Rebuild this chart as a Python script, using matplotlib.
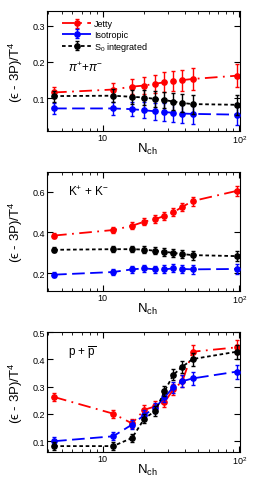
import numpy as np
import matplotlib.pyplot as plt
from matplotlib.ticker import FixedLocator, LogLocator, NullFormatter

plt.rcParams['font.family'] = ['Liberation Sans', 'DejaVu Sans']
plt.rcParams['mathtext.fontset'] = 'custom'
plt.rcParams['mathtext.rm'] = 'Liberation Sans'
plt.rcParams['mathtext.it'] = 'Liberation Sans:italic'

nch = [4.4, 11.9, 16.4, 20.1, 24.3, 28.3, 32.9, 38.3, 45.4, 95.5]

# pi+ + pi-
pi_jetty = [0.116, 0.124, 0.132, 0.135, 0.140, 0.144, 0.147, 0.150, 0.153, 0.162]
pi_jetty_err = [0.015, 0.018, 0.021, 0.023, 0.025, 0.027, 0.028, 0.029, 0.030, 0.031]
pi_iso = [0.072, 0.072, 0.070, 0.067, 0.064, 0.062, 0.060, 0.058, 0.057, 0.055]
pi_iso_err = [0.015, 0.018, 0.020, 0.022, 0.024, 0.025, 0.026, 0.027, 0.028, 0.028]
pi_s0 = [0.106, 0.107, 0.104, 0.102, 0.098, 0.095, 0.091, 0.087, 0.084, 0.082]
pi_s0_err = [0.015, 0.018, 0.020, 0.021, 0.022, 0.023, 0.024, 0.025, 0.026, 0.027]

# K+ + K-
k_jetty = [0.384, 0.411, 0.432, 0.452, 0.465, 0.480, 0.498, 0.525, 0.553, 0.603]
k_jetty_err = [0.012, 0.015, 0.016, 0.017, 0.018, 0.019, 0.020, 0.021, 0.022, 0.025]
k_iso = [0.192, 0.205, 0.218, 0.223, 0.218, 0.218, 0.223, 0.220, 0.218, 0.220]
k_iso_err = [0.012, 0.015, 0.016, 0.017, 0.018, 0.019, 0.020, 0.021, 0.022, 0.025]
k_s0 = [0.314, 0.317, 0.317, 0.315, 0.309, 0.304, 0.299, 0.293, 0.288, 0.283]
k_s0_err = [0.012, 0.015, 0.016, 0.017, 0.018, 0.019, 0.020, 0.021, 0.022, 0.025]

# p + pbar
p_jetty = [0.262, 0.201, 0.165, 0.215, 0.228, 0.243, 0.290, 0.320, 0.428, 0.444]
p_jetty_err = [0.015, 0.015, 0.016, 0.017, 0.018, 0.019, 0.020, 0.022, 0.024, 0.026]
p_iso = [0.100, 0.118, 0.161, 0.196, 0.223, 0.261, 0.298, 0.320, 0.330, 0.355]
p_iso_err = [0.015, 0.015, 0.016, 0.017, 0.018, 0.019, 0.020, 0.022, 0.024, 0.026]
p_s0 = [0.082, 0.082, 0.112, 0.182, 0.212, 0.283, 0.344, 0.373, 0.401, 0.428]
p_s0_err = [0.015, 0.015, 0.016, 0.017, 0.018, 0.019, 0.020, 0.022, 0.024, 0.026]

panels = [
    (pi_jetty, pi_jetty_err, pi_iso, pi_iso_err, pi_s0, pi_s0_err,
     (0.01, 0.34), [0.1, 0.2, 0.3], r'$\pi^{+}$+$\pi^{-}$', 0.53),
    (k_jetty, k_jetty_err, k_iso, k_iso_err, k_s0, k_s0_err,
     (0.112, 0.695), [0.2, 0.4, 0.6], r'K$^{+}$ + K$^{-}$', 0.84),
    (p_jetty, p_jetty_err, p_iso, p_iso_err, p_s0, p_s0_err,
     (0.06, 0.5), [0.1, 0.2, 0.3, 0.4, 0.5], r'p + $\overline{\mathregular{p}}$', 0.84),
]

positions = [
    [0.184, 0.7256, 0.757, 0.2495],
    [0.184, 0.393, 0.757, 0.247],
    [0.184, 0.058, 0.757, 0.2495],
]

fig = plt.figure(figsize=(2.55, 4.81), dpi=100)

for i, (jet, jet_e, iso, iso_e, s0, s0_e, ylim, yticks, label, ly) in enumerate(panels):
    ax = fig.add_axes(positions[i])
    kw = dict(marker='o', markersize=3.8, capsize=1.2, elinewidth=1.0, lw=1.3)
    ax.errorbar(nch, jet, yerr=jet_e, color='#ff0000', dashes=[7, 3, 1, 3],
                label='Jetty', zorder=2, **kw)
    ax.errorbar(nch, iso, yerr=iso_e, color='#0000ff', dashes=[7, 3],
                label='Isotropic', zorder=3, **kw)
    ax.errorbar(nch, s0, yerr=s0_e, color='black', dashes=[2, 1.5],
                label=r'S$_{0}$ integrated', zorder=4, **kw)
    ax.set_xscale('log')
    ax.set_xlim(3.9, 101)
    ax.set_ylim(*ylim)
    ax.xaxis.set_major_locator(FixedLocator([10, 100]))
    ax.set_xticklabels(['10', r'10$^{2}$'])
    ax.xaxis.set_minor_locator(LogLocator(base=10, subs=np.arange(2, 10)))
    ax.xaxis.set_minor_formatter(NullFormatter())
    ax.set_yticks(yticks)
    ax.set_yticklabels([f'{t:.1f}' for t in yticks])
    ax.tick_params(which='both', direction='in', top=True, right=True,
                   labelsize=6.5, pad=1.5)
    ax.tick_params(which='major', length=4)
    ax.tick_params(which='minor', length=2)
    ax.set_xlabel(r'N$_{\mathregular{ch}}$', fontsize=9.5)
    ax.xaxis.set_label_coords(0.52, -0.085)
    ax.set_ylabel(r'(ϵ - 3P)/T$^{4}$', fontsize=9.5)
    ax.yaxis.set_label_coords(-0.115, 0.5)
    ax.text(0.11, ly, label, transform=ax.transAxes, fontsize=8.5, va='center')
    if i == 0:
        ax.legend(loc='upper left', frameon=False, fontsize=6.5, handlelength=3.2,
                  borderaxespad=0.0, labelspacing=0.15, handletextpad=0.3,
                  bbox_to_anchor=(0.06, 0.96))

plt.savefig('out.png', dpi=100)
